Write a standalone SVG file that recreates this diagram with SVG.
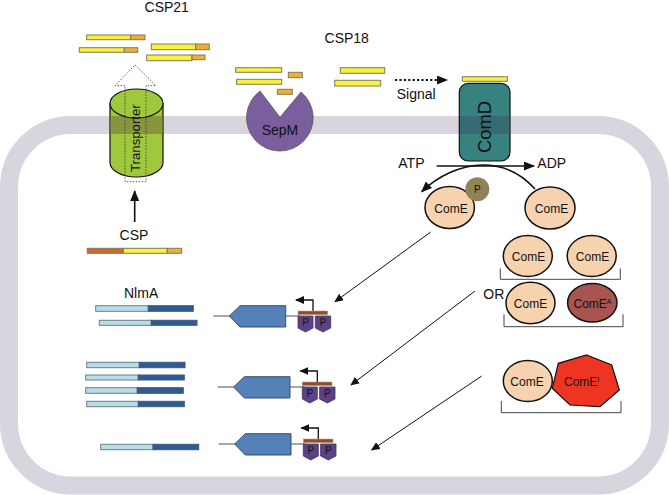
<svg xmlns="http://www.w3.org/2000/svg" width="669" height="495" viewBox="0 0 669 495">
  <style>
    text { font-family: "Liberation Sans", Arial, sans-serif; fill: #111; font-size: 14px; }
    .y { fill: #fbf03c; stroke: #7d7a60; stroke-width: 1; }
    .o { fill: #efb02f; stroke: #7d7a60; stroke-width: 1; }
    .lt { fill: #b8dde8; stroke: #6f7f86; stroke-width: 1; }
    .dk { fill: #2f5a92; stroke: #3c5a7a; stroke-width: 1; }
    .come { fill: #f6d2ae; stroke: #111; stroke-width: 1.5; }
    .lbl { font-size: 12px; text-anchor: middle; }
    .br { fill: none; stroke: #444; stroke-width: 1; }
    .thin { fill: none; stroke: #111; stroke-width: 1; marker-end: url(#head); }
    .gene-line { stroke: #8a8a8a; stroke-width: 1.5; }
    .gene { fill: #5580b8; stroke: #3a5168; stroke-width: 1; }
    .op { fill: #8f4f28; stroke: #c79a80; stroke-width: 0.6; }
    .pbox { fill: #5d4186; stroke: #3f3560; stroke-width: 0.8; }
    .pt { font-size: 10px; text-anchor: middle; }
  </style>
  <defs>
    <marker id="head" markerWidth="9" markerHeight="8" refX="8" refY="4" orient="auto" markerUnits="userSpaceOnUse"><path d="M0 0L9 4L0 8Z" fill="#111"/></marker>
    <marker id="headL" markerWidth="11" markerHeight="9" refX="10" refY="4.5" orient="auto" markerUnits="userSpaceOnUse"><path d="M0 0L11 4.5L0 9Z" fill="#111"/></marker>
  </defs>

  <!-- cell membrane band -->
  <g id="membrane"><rect x="9" y="125" width="651" height="360.5" rx="62" fill="none" stroke="#d8d5de" stroke-width="18"/></g>

  <g id="csp21">
    <text x="166.7" y="12" text-anchor="middle">CSP21</text>
    <rect class="y" x="86.7" y="35" width="44" height="4.7"/><rect class="o" x="130.7" y="35" width="14.3" height="4.7"/>
    <rect class="y" x="79.3" y="47.7" width="45" height="4.6"/><rect class="o" x="124.3" y="47.7" width="13.4" height="4.6"/>
    <rect class="y" x="151.3" y="44" width="44.4" height="5.7"/><rect class="o" x="195.7" y="44" width="13.6" height="5.7"/>
    <rect class="y" x="146.7" y="55" width="45.3" height="5.7"/><rect class="o" x="192" y="55" width="13" height="4.7"/>
  </g>

  <g id="transporter">
    <path d="M110 103.5V162.5A26.5 14.5 0 0 0 163 162.5V103.5Z" fill="#a0c83c" stroke="#111" stroke-width="1.2"/>
    <path d="M110.6 116H162.4V134H110.6Z" fill="#87953f"/>
    <ellipse cx="136.5" cy="103.5" rx="26.5" ry="14.5" fill="#a0c83c" stroke="#111" stroke-width="1.2"/>
    <path d="M125 181.7V85.7H115L135 65L156 85.7H146V181.7Z" fill="none" stroke="#333" stroke-width="0.8" stroke-dasharray="1.5 1.5"/>
    <text transform="translate(140 172) rotate(-90)" style="font-size:13.2px">Transporter</text>
  </g>

  <g id="csp">
    <text x="134" y="240" text-anchor="middle">CSP</text>
    <rect x="87.3" y="248.3" width="36" height="5" fill="#d2692a" stroke="#7d7a60"/>
    <rect class="y" x="123.3" y="248.3" width="44" height="5"/><rect class="o" x="167.3" y="248.3" width="14.4" height="5"/>
  </g>

  <g id="sepm">
    <path d="M260 91L280 117.3L301 92A33.3 33.3 0 1 1 260 91Z" fill="#7b5e9e" stroke="#555" stroke-width="0.8"/>
    <text x="280" y="135" text-anchor="middle">SepM</text>
  </g>

  <g id="csp18">
    <text x="346.7" y="43.3" text-anchor="middle">CSP18</text>
    <rect class="y" x="235.7" y="67.7" width="46" height="4.6"/>
    <rect class="y" x="236.7" y="79.3" width="45" height="5"/>
    <rect class="o" x="288.3" y="72.3" width="14" height="5.4"/>
    <rect class="o" x="277.3" y="89.3" width="15" height="5"/>
    <rect class="y" x="340.3" y="67.7" width="44.4" height="5.6"/>
    <rect class="y" x="334.7" y="80.3" width="46" height="5.7"/>
  </g>

  <g id="comd">
    <rect class="y" x="462.3" y="76.7" width="45" height="4.6"/>
    <rect x="459.3" y="83.3" width="50.7" height="77.7" rx="9" fill="#37817f" stroke="#111" stroke-width="1.2"/>
    <rect x="460" y="116" width="49.4" height="18" fill="#386a74"/>
    <text transform="translate(490.7 153) rotate(-90)" style="font-size:18.4px">ComD</text>
  </g>

  <g id="connectors">
    <path d="M395 80H447" fill="none" stroke="#111" stroke-width="2.2" stroke-dasharray="2.2 2.2" marker-end="url(#headL)"/>
    <path d="M134.7 222V191" fill="none" stroke="#111" stroke-width="1.6" marker-end="url(#headL)"/>
    <path d="M436.7 166H534" fill="none" stroke="#111" stroke-width="1.6" marker-end="url(#headL)"/>
    <path d="M535 189C518 170 500 165 483 165C460 165 437 177 421.7 191.7" fill="none" stroke="#111" stroke-width="1.6" marker-end="url(#headL)"/>
    <path class="thin" d="M430.7 232L335 301.7"/>
    <path class="thin" d="M475 291L351 385"/>
    <path class="thin" d="M481.7 376L371.7 450"/>
  </g>

  <g id="energy-labels">
    <text x="398.3" y="167.7">ATP</text>
    <text x="537.3" y="167.7">ADP</text>
    <text x="396.7" y="99">Signal</text>
  </g>

  <g id="come-p">
    <ellipse class="come" cx="449.7" cy="207.5" rx="24.7" ry="21"/>
    <circle cx="477.3" cy="189.3" r="12" fill="#8e8457"/>
    <text class="pt" x="477.3" y="193">P</text>
    <text class="lbl" x="451" y="213">ComE</text>
  </g>
  <g id="come-free">
    <ellipse class="come" cx="550" cy="208" rx="25" ry="21"/>
    <text class="lbl" x="551.5" y="213">ComE</text>
  </g>

  <g id="dimer-wt">
    <ellipse class="come" cx="527.8" cy="256" rx="24.5" ry="20.5"/>
    <text class="lbl" x="528.5" y="260.5">ComE</text>
    <ellipse class="come" cx="591.7" cy="256" rx="24.5" ry="20.5"/>
    <text class="lbl" x="592.5" y="260.5">ComE</text>
    <path class="br" d="M500.3 268.3V279.3H620.3V268.3"/>
  </g>

  <g id="dimer-a">
    <text x="483.3" y="298.7">OR</text>
    <ellipse class="come" cx="530.5" cy="303" rx="24.5" ry="20.7"/>
    <text class="lbl" x="530.5" y="307.5">ComE</text>
    <ellipse cx="592.3" cy="302.7" rx="24.7" ry="19.3" fill="#a85450" stroke="#111" stroke-width="1.5"/>
    <text x="573.5" y="307.5" style="font-size:12px">ComE<tspan dy="-4" style="font-size:7px">A</tspan></text>
    <path class="br" d="M504 314.3V326.7H623V314.3"/>
  </g>

  <g id="dimer-i">
    <ellipse class="come" cx="527.8" cy="381" rx="24.5" ry="20.5"/>
    <text class="lbl" x="527" y="386">ComE</text>
    <path d="M586.7 355L611.7 365L619.3 390L600 406.7L570 405L552.3 388.3L558.3 363.3Z" fill="#ee3524" stroke="#111" stroke-width="1.2"/>
    <text x="564" y="386" style="font-size:12px">ComE<tspan dy="-4" style="font-size:7px">I</tspan></text>
    <path class="br" d="M501.3 401V412.7H621V401"/>
  </g>

  <g id="nlma">
    <text x="124" y="298.3">NlmA</text>
    <rect class="lt" x="95.7" y="305.7" width="52.6" height="5.6"/><rect class="dk" x="148.3" y="305.7" width="45" height="5.6"/>
    <rect class="lt" x="99.3" y="320.3" width="52" height="5"/><rect class="dk" x="151.3" y="320.3" width="45.7" height="5"/>
  </g>
  <g id="transcripts-2">
    <rect class="lt" x="86.7" y="362.3" width="52.6" height="5.4"/><rect class="dk" x="139.3" y="362.3" width="45.7" height="5.4"/>
    <rect class="lt" x="85.7" y="375" width="52.6" height="5"/><rect class="dk" x="138.3" y="375" width="46" height="5"/>
    <rect class="lt" x="85.7" y="387.7" width="51.6" height="5.6"/><rect class="dk" x="137.3" y="387.7" width="46" height="5.6"/>
    <rect class="lt" x="86.7" y="401.3" width="51.6" height="5.4"/><rect class="dk" x="138.3" y="401.3" width="46" height="5.4"/>
  </g>
  <g id="transcripts-3">
    <rect class="lt" x="100.7" y="444.3" width="52.3" height="5.4"/><rect class="dk" x="153" y="444.3" width="45.7" height="5.4"/>
  </g>

  <g id="gene-1">
    <path class="gene-line" d="M213.3 316H300"/>
    <path class="gene" d="M229.3 316L240 305.7H285.7V327H240Z"/>
    <path d="M313 311V300H296" fill="none" stroke="#111" stroke-width="1.3" marker-end="url(#head)"/>
    <rect class="op" x="298" y="311" width="29.7" height="3.7"/>
    <path class="pbox" d="M298 316H313V328L305.5 332L298 328Z"/><text class="pt" x="305.5" y="326">P</text>
    <path class="pbox" d="M315.3 316H330.7V328L323 332L315.3 328Z"/><text class="pt" x="323" y="326">P</text>
  </g>
  <g id="gene-2" transform="translate(4.3 71)">
    <path class="gene-line" d="M213.3 316H300"/>
    <path class="gene" d="M229.3 316L240 305.7H285.7V327H240Z"/>
    <path d="M313 311V300H296" fill="none" stroke="#111" stroke-width="1.3" marker-end="url(#head)"/>
    <rect class="op" x="298" y="311" width="29.7" height="3.7"/>
    <path class="pbox" d="M298 316H313V328L305.5 332L298 328Z"/><text class="pt" x="305.5" y="326">P</text>
    <path class="pbox" d="M315.3 316H330.7V328L323 332L315.3 328Z"/><text class="pt" x="323" y="326">P</text>
  </g>
  <g id="gene-3" transform="translate(5.3 128)">
    <path class="gene-line" d="M213.3 316H300"/>
    <path class="gene" d="M229.3 316L240 305.7H285.7V327H240Z"/>
    <path d="M313 311V300H296" fill="none" stroke="#111" stroke-width="1.3" marker-end="url(#head)"/>
    <rect class="op" x="298" y="311" width="29.7" height="3.7"/>
    <path class="pbox" d="M298 316H313V328L305.5 332L298 328Z"/><text class="pt" x="305.5" y="326">P</text>
    <path class="pbox" d="M315.3 316H330.7V328L323 332L315.3 328Z"/><text class="pt" x="323" y="326">P</text>
  </g>
</svg>
